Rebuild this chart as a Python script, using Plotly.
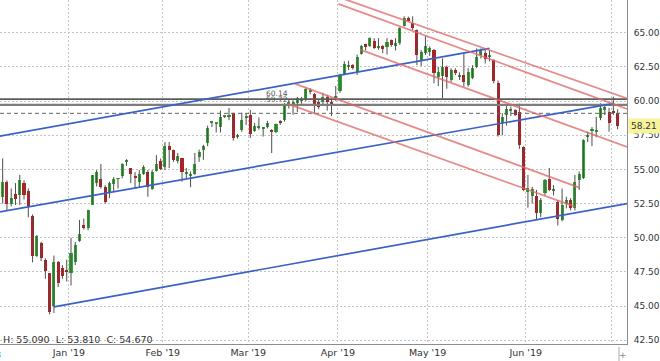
import plotly.graph_objects as go
import pandas as pd

# ---------------- data ----------------
holidays = ["2018-12-25", "2019-01-01", "2019-04-19"]
dates = [d for d in pd.bdate_range("2018-12-07", "2019-07-02")
         if d.strftime("%Y-%m-%d") not in holidays]

opens = [53.0, 54.1, 52.5, 53.2, 53.1, 54.0, 53.4, 51.6, 48.7, 49.6,
         48.4, 47.4, 45.0, 48.2, 47.8, 47.6, 47.4, 48.2, 49.8, 50.9,
         50.7, 52.4, 54.0, 54.3, 53.7, 53.3, 53.9, 54.3, 54.5, 55.6,
         55.1, 54.5, 54.1, 54.7, 54.8, 53.6, 54.9, 55.6, 55.2, 56.7,
         56.4, 55.6, 55.8, 54.7, 54.5, 54.7, 55.9, 56.4, 56.9, 58.4,
         58.35, 58.1, 58.85, 58.8, 59.1, 57.4, 57.9, 58.8, 59.0, 57.8,
         58.0, 58.0, 58.1, 57.9, 57.7, 58.5, 58.6, 59.7, 59.8, 59.85,
         60.0, 60.07, 60.7, 60.5, 59.95, 59.9, 60.3, 59.85, 60.07, 60.7,
         62.0, 62.55, 62.6, 62.15, 63.44, 64.15, 64.02, 64.4, 63.9, 64.05,
         63.97, 64.46, 64.05, 64.22, 65.5, 66.05, 65.68, 65.2, 63.0, 63.54,
         63.56, 63.73, 61.73, 61.8, 62.5, 61.54, 62.27, 61.73, 61.9, 61.17,
         61.66, 62.51, 63.37, 63.49, 63.2, 63.0, 61.34, 58.4, 58.98, 59.3,
         59.34, 59.17, 56.66, 53.37, 53.05, 53.05, 51.8, 53.25, 54.3, 53.45,
         52.6, 51.3, 52.5, 52.75, 52.2, 54.2, 54.4, 57.35, 57.85, 57.8,
         58.73, 59.34, 59.2, 59.29, 59.15]
highs = [55.8, 54.2, 53.6, 54.0, 54.6, 54.2, 53.6, 51.7, 50.2, 49.7,
         48.5, 47.4, 48.7, 48.3, 48.0, 48.4, 50.0, 49.7, 51.3, 51.4,
         52.05, 54.6, 54.95, 55.4, 53.85, 54.1, 54.45, 54.35, 55.45, 55.75,
         55.1, 54.8, 54.95, 55.3, 54.95, 54.95, 56.05, 55.8, 57.0, 57.0,
         56.45, 56.2, 55.8, 55.1, 54.85, 56.2, 56.45, 56.8, 58.2, 58.55,
         58.4, 59.3, 58.95, 59.5, 59.15, 57.6, 59.15, 59.1, 59.35, 58.4,
         58.8, 58.1, 58.55, 57.95, 58.35, 58.6, 59.85, 60.1, 60.05, 60.3,
         60.3, 61.0, 60.95, 60.6, 60.1, 60.6, 60.45, 60.1, 61.1, 62.0,
         62.9, 62.95, 62.7, 63.4, 64.1, 64.2, 64.66, 64.6, 64.6, 64.1,
         64.6, 64.5, 64.6, 65.4, 66.2, 66.17, 66.2, 65.24, 63.73, 64.76,
         64.0, 63.8, 62.5, 63.12, 62.6, 62.4, 62.4, 62.1, 63.5, 62.4,
         62.63, 63.85, 63.85, 63.85, 63.7, 63.05, 61.5, 59.1, 59.7, 59.6,
         59.4, 59.8, 56.7, 54.6, 53.73, 53.5, 52.9, 54.3, 55.1, 53.85,
         52.75, 53.6, 53.0, 52.9, 54.6, 54.85, 57.2, 57.75, 58.1, 58.85,
         59.83, 59.7, 59.5, 60.32, 59.39]
lows = [52.5, 52.0, 52.3, 52.4, 52.4, 52.8, 51.5, 48.2, 48.6, 48.3,
        47.0, 44.4, 44.5, 46.4, 47.0, 46.8, 46.5, 48.0, 49.7, 50.6,
        50.55, 52.4, 53.75, 53.6, 52.5, 52.9, 53.4, 53.6, 54.35, 55.25,
        54.0, 53.6, 53.7, 54.6, 53.0, 53.5, 54.85, 54.95, 54.95, 55.1,
        55.55, 55.45, 54.1, 54.35, 53.7, 54.6, 55.55, 55.7, 56.7, 58.1,
        57.7, 57.7, 58.75, 58.6, 57.1, 57.25, 57.75, 58.25, 57.3, 57.75,
        57.9, 57.4, 58.0, 56.2, 57.65, 58.25, 58.5, 59.45, 59.0, 59.2,
        59.8, 60.0, 60.5, 59.1, 59.4, 59.75, 59.3, 58.9, 60.0, 60.6,
        61.9, 62.27, 62.3, 61.9, 63.4, 63.7, 63.95, 63.8, 63.75, 63.5,
        63.4, 63.97, 63.7, 64.1, 65.45, 65.8, 65.2, 62.63, 62.56, 63.37,
        63.3, 61.3, 61.1, 60.2, 60.9, 61.4, 61.9, 61.54, 61.05, 61.05,
        61.6, 62.4, 63.1, 62.75, 62.9, 61.3, 57.4, 57.5, 58.2, 58.9,
        58.9, 56.5, 53.4, 52.2, 52.5, 51.3, 51.5, 53.1, 53.4, 53.1,
        50.9, 51.2, 52.15, 52.0, 52.0, 53.5, 54.3, 57.0, 56.7, 57.35,
        58.6, 58.97, 57.75, 58.98, 57.93]
closes = [54.1, 52.5, 52.9, 52.8, 54.2, 53.1, 52.3, 48.7, 50.1, 48.5,
          47.6, 44.6, 48.2, 46.7, 47.2, 47.55, 48.9, 49.5, 50.3, 50.7,
          52.0, 54.6, 54.8, 53.7, 52.6, 54.0, 54.3, 54.35, 55.4, 55.62,
          54.7, 54.4, 54.7, 55.2, 53.7, 54.8, 55.4, 55.0, 56.7, 56.4,
          55.7, 56.0, 54.8, 54.8, 54.7, 55.4, 56.3, 56.7, 58.0, 58.5,
          58.4, 58.85, 58.9, 59.0, 57.3, 57.45, 58.6, 58.82, 57.6, 58.2,
          58.2, 58.1, 58.4, 57.75, 58.3, 58.4, 59.7, 59.95, 59.82, 60.2,
          60.15, 60.9, 60.72, 59.8, 59.6, 60.3, 59.95, 59.8, 60.4, 61.9,
          62.7, 62.6, 62.4, 63.25, 64.02, 63.97, 64.6, 63.85, 64.05, 63.8,
          64.34, 64.1, 64.27, 65.32, 66.05, 65.88, 65.32, 63.37, 63.6, 64.0,
          63.85, 62.02, 62.1, 62.5, 61.73, 62.27, 62.02, 61.9, 61.4, 62.15,
          62.39, 63.2, 63.73, 63.05, 63.37, 61.5, 57.5, 58.8, 59.39, 59.33,
          58.98, 56.78, 53.5, 53.61, 53.6, 51.8, 52.75, 54.2, 53.5, 53.55,
          51.4, 52.4, 52.75, 52.15, 54.1, 54.7, 57.15, 57.5, 57.9, 57.9,
          59.46, 59.54, 58.4, 59.15, 58.21]

month_labels = {1: "Jan '19", 2: "Feb '19", 3: "Mar '19", 4: "Apr '19",
                5: "May '19", 6: "Jun '19", 7: ""}

# trend lines: (bar index, price) endpoints
blue_lines = [((-1, 57.42), (114.0, 63.85)),
              ((-1, 51.88), (143.2, 59.83)),
              ((12, 44.95), (147.0, 52.55))]
red_lines = [((78.5, 67.62), (146.2, 60.19)),
             ((78.6, 67.10), (146.2, 59.42)),
             ((83.7, 63.76), (146.2, 56.65)),
             ((68.5, 61.26), (135.2, 53.65)),
             ((66.8, 59.79), (134.0, 52.28))]
levels = [60.14, 59.72]
ref_dashed = 59.10
last_price = 58.21
info_text = "H:\u00a055.090\u00a0\u00a0L:\u00a053.810\u00a0\u00a0C:\u00a054.670"

# ---------------- figure ----------------
n = len(dates)
xs = list(range(n))
GREEN, RED = "#2fa92f", "#c5171c"

wx, wy = [], []
for i in xs:
    wx += [i, i, None]
    wy += [lows[i], highs[i], None]

base = [min(o, c) for o, c in zip(opens, closes)]
height = [max(abs(c - o), 0.07) for o, c in zip(opens, closes)]
cols = [GREEN if c >= o else RED for o, c in zip(opens, closes)]

fig = go.Figure()
fig.add_trace(go.Scatter(x=wx, y=wy, mode="lines", line=dict(color="#4d4d4d", width=1),
                         hoverinfo="skip", showlegend=False))
fig.add_trace(go.Bar(x=xs, base=base, y=height, width=0.72,
                     marker=dict(color=cols, line=dict(width=0)),
                     customdata=[d.strftime("%Y-%m-%d") for d in dates],
                     showlegend=False))

shapes = []
for lv, col, w in [(levels[0], "#5c5c5c", 1.6), (levels[1], "#7d7d7d", 2.4)]:
    shapes.append(dict(type="line", xref="paper", x0=0, x1=1, yref="y", y0=lv, y1=lv,
                       line=dict(color=col, width=w)))
shapes.append(dict(type="line", xref="paper", x0=0, x1=1, yref="y", y0=ref_dashed, y1=ref_dashed,
                   line=dict(color="#666666", width=1, dash="4px,3px")))
for (a, b) in blue_lines:
    shapes.append(dict(type="line", xref="x", yref="y", x0=a[0], y0=a[1], x1=b[0], y1=b[1],
                       line=dict(color="#3a62c6", width=1.7)))
for (a, b) in red_lines:
    shapes.append(dict(type="line", xref="x", yref="y", x0=a[0], y0=a[1], x1=b[0], y1=b[1],
                       line=dict(color="rgba(222,100,100,0.75)", width=1.8)))

# month boundaries
tickvals, ticktext = [], []
for i in range(1, n):
    if dates[i].month != dates[i - 1].month:
        tickvals.append(i - 0.5)
        ticktext.append(month_labels[dates[i].month])

xr = [-0.625, 146.2]
span = xr[1] - xr[0]

annotations = [
    dict(text="60.14", xref="x", yref="y", x=64.3, y=levels[0], yshift=5.5, showarrow=False,
         font=dict(size=7.5, color="#555555")),
    dict(text="59.72", xref="x", yref="y", x=64.3, y=levels[1], yshift=5, showarrow=False,
         font=dict(size=7.5, color="#555555")),
    dict(text=info_text, xref="paper", yref="paper", x=0, xshift=1, y=5 / 344, xanchor="left",
         yanchor="middle", showarrow=False, font=dict(size=9.5, color="#333333")),
    dict(text=f"{last_price:.2f}", xref="paper", yref="y", x=1, xshift=1, y=last_price,
         xanchor="left", yanchor="middle", showarrow=False, bgcolor="#f6f49a",
         width=29, align="left", borderpad=2, font=dict(size=9, color="#333333")),
    dict(text="Dec '18", xref="paper", yref="paper", x=(-4.5 - xr[0]) / span, y=-10 / 344,
         xanchor="center", yanchor="middle", showarrow=False, font=dict(size=9.5, color="#333333")),
    dict(text="+", xref="paper", yref="paper", x=623 / 627, y=-11 / 344, xanchor="center",
         yanchor="middle", showarrow=False, font=dict(size=9, color="#888888")),
]
shapes.append(dict(type="line", xref="paper", yref="paper", x0=619 / 627, x1=619 / 627,
                   y0=-3 / 344, y1=-17 / 344, line=dict(color="#aaaaaa", width=1)))

fig.update_layout(
    width=660, height=361,
    margin=dict(l=0, r=33, t=0, b=17),
    paper_bgcolor="white", plot_bgcolor="white",
    font=dict(family="DejaVu Sans", size=9, color="#333333"),
    showlegend=False, bargap=0,
    shapes=shapes, annotations=annotations,
    xaxis=dict(range=xr, tickvals=tickvals, ticktext=ticktext, showgrid=True,
               gridcolor="#c4c4c4", griddash="2px,2px", gridwidth=1, zeroline=False,
               showline=True, linecolor="#8c8c8c", linewidth=1, ticks="",
               tickfont=dict(size=9.5, color="#333333")),
    yaxis=dict(range=[42.23, 67.39], side="right", tick0=45, dtick=2.5, tickformat=".2f",
               showgrid=True, gridcolor="#c4c4c4", griddash="2px,2px", gridwidth=1,
               zeroline=False, showline=True, linecolor="#8c8c8c", linewidth=1, ticks="",
               ticklabelstandoff=4, tickfont=dict(size=9, color="#333333")),
)

fig.write_html("out.html", config={"displayModeBar": False},
               post_script="document.body.style.margin='0';document.body.style.padding='0';")
